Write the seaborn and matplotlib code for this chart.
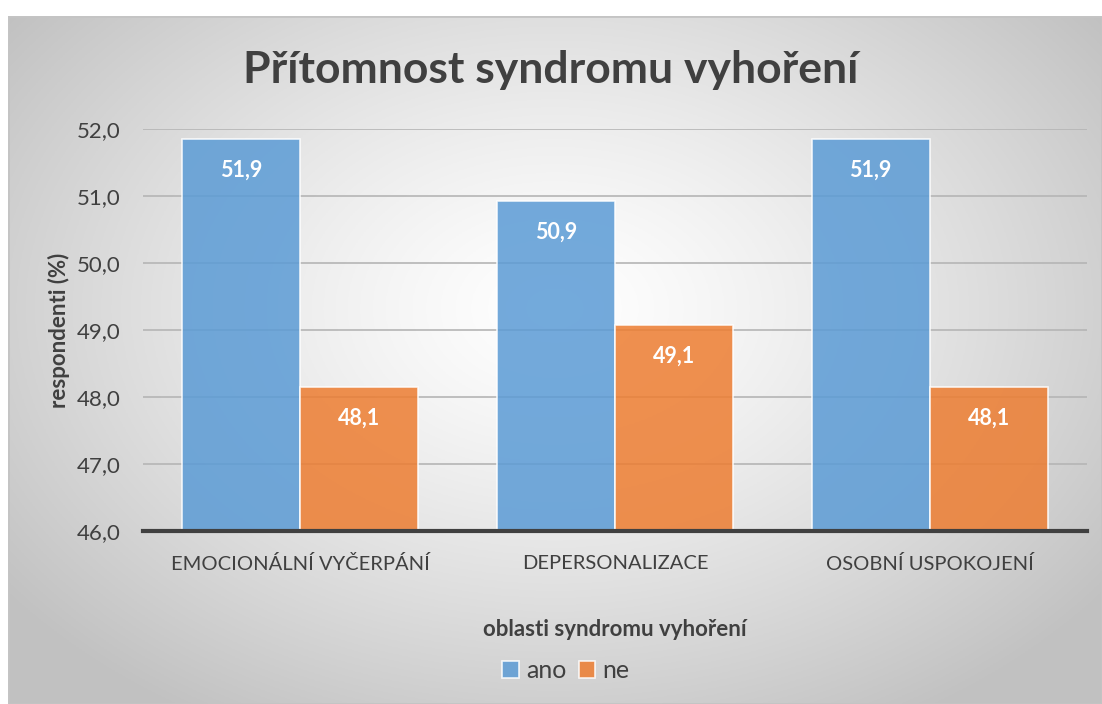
import numpy as np
import pandas as pd
import matplotlib.pyplot as plt
import seaborn as sns
from matplotlib.patches import Rectangle

# data
categories = ["EMOCIONÁLNÍ VYČERPÁNÍ", "DEPERSONALIZACE", "OSOBNÍ USPOKOJENÍ"]
ano_values = [51.85, 50.92, 51.85]
ne_values = [48.15, 49.07, 48.15]
ano_labels = ["51,9", "50,9", "51,9"]
ne_labels = ["48,1", "49,1", "48,1"]
series = ["ano", "ne"]
y_ticks = [46, 47, 48, 49, 50, 51, 52]

df = pd.DataFrame({
    "oblast": categories * 2,
    "serie": ["ano"] * 3 + ["ne"] * 3,
    "hodnota": ano_values + ne_values,
})

sns.set_theme(style="white")
plt.rcParams["font.family"] = ["Lato", "DejaVu Sans"]

W, H = 1102, 704
fig = plt.figure(figsize=(W / 100, H / 100), dpi=100)
fig.patch.set_facecolor("white")

# radial gradient background of the chart area
x0, y0t = 8, 16
bg = fig.add_axes([x0 / W, 0, 1 - x0 / W, 1 - y0t / H], zorder=0)
gx, gy = np.meshgrid(np.linspace(-1, 1, 400), np.linspace(-1, 1, 300))
r = np.sqrt((gx * 1.0) ** 2 + ((gy + 0.15) * 0.9) ** 2)
r = np.clip(r / 1.25, 0, 1)
shade = 1.0 - 0.24 * r ** 1.3
bg.imshow(np.dstack([shade, shade, shade]), aspect="auto", extent=[0, 1, 0, 1])
bg.add_patch(Rectangle((0, 0), 1, 1, transform=bg.transAxes, fill=False,
                       edgecolor="#c4c4c4", linewidth=2))
bg.set_axis_off()

left, right, top, bottom = 143, 1087, 129, 531
ax_h = bottom - top
ax = fig.add_axes([left / W, 1 - bottom / H, (right - left) / W, ax_h / H], zorder=1)
ax.patch.set_alpha(0)

palette = {"ano": "#5B9BD5", "ne": "#ED7D31"}
sns.barplot(data=df, x="oblast", y="hodnota", hue="serie", palette=palette,
            width=0.75, alpha=0.85, edgecolor="white", linewidth=1.2,
            saturation=1, ax=ax, legend=True)

ax.set_ylim(46, 52)
ax.set_xlim(-0.5, 2.5)
ax.set_yticks(y_ticks)
ax.set_yticklabels([f"{v},0" for v in y_ticks], fontsize=16, color="#404040")
ax.tick_params(axis="x", labelsize=14.5, colors="#404040", pad=17, length=0)
ax.tick_params(axis="y", length=0, pad=16)
ax.yaxis.grid(True, color="#b5b5b5", linewidth=1.2)
ax.set_axisbelow(True)
for s in ["top", "right", "left"]:
    ax.spines[s].set_visible(False)
ax.spines["bottom"].set_color("#404040")
ax.spines["bottom"].set_linewidth(3)

ax.set_xlabel("oblasti syndromu vyhoření", fontsize=16, fontweight="bold", color="#404040")
ax.xaxis.set_label_coords(0.5, (bottom - 630) / ax_h)
ax.xaxis.label.set_va("center")
ax.set_ylabel("")
fig.text(59 / W, 1 - 330 / H, "respondenti (%)", rotation=90, ha="center", va="center",
         fontsize=16, fontweight="bold", color="#404040")

# value labels inside bars
for container, labels in zip(ax.containers, [ano_labels, ne_labels]):
    ax.bar_label(container, labels=labels, label_type="edge", padding=-30,
                 color="white", fontsize=15.5, fontweight="bold")

leg = ax.legend(loc="center", bbox_to_anchor=((566 - left) / (right - left), (bottom - 671) / ax_h),
                ncol=2, frameon=False, fontsize=18, handlelength=0.65, handleheight=0.65,
                handletextpad=0.3, columnspacing=0.5, labelcolor="#404040")

fig.text(0.5, 1 - 70 / H, "Přítomnost syndromu vyhoření", ha="center", va="center",
         fontsize=32, fontweight="bold", color="#404040")

fig.savefig("out.png", dpi=100)
